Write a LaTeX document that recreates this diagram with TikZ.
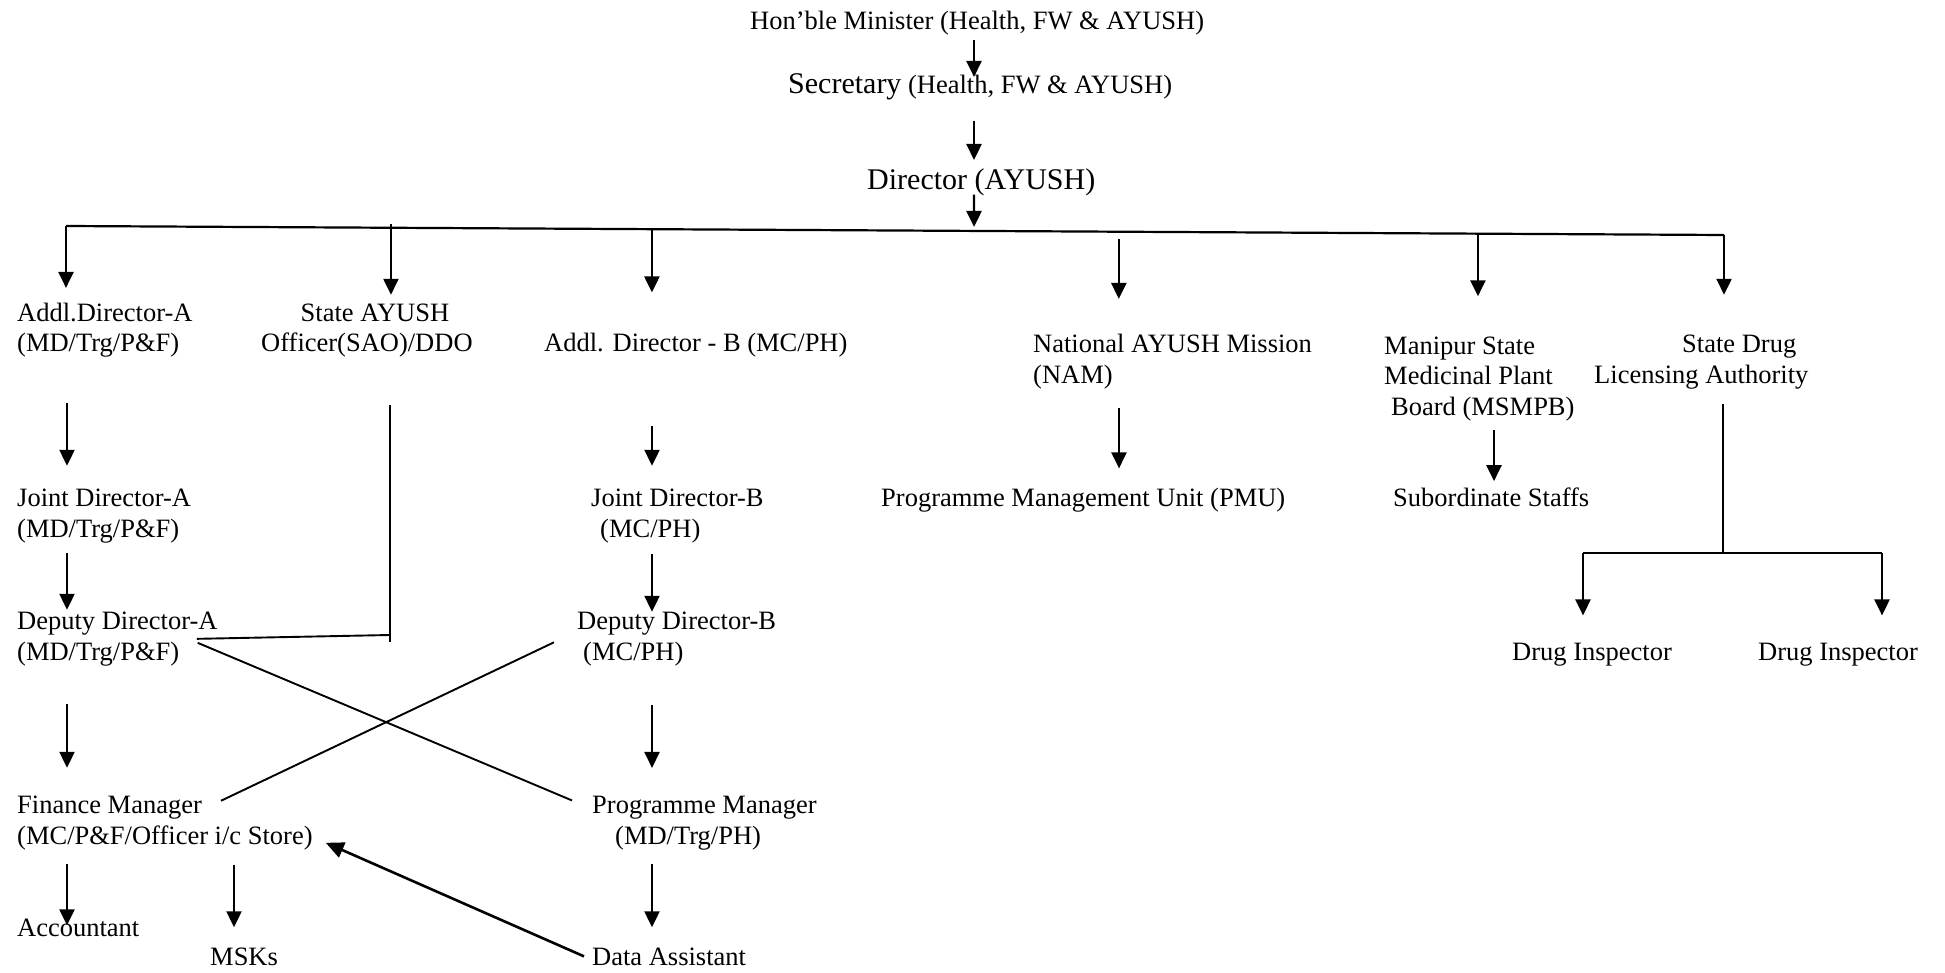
\documentclass[tikz,border=0pt]{standalone}
\usepackage{fontspec}
\setmainfont{Liberation Serif}
\usetikzlibrary{arrows.meta,calc}

\begin{document}
\begin{tikzpicture}[x=1pt,y=-1pt,
    lbl/.style={anchor=base west,inner sep=0pt,align=left,font=\labelfontsize},
    arr/.style={line width=2.4pt,-{Triangle[length=16pt,width=15pt]}},
    link/.style={line width=1.9pt}]
    \pgfmathsetmacro{\chartwidth}{1945}
    \pgfmathsetmacro{\chartheight}{973}
    \providecommand{\labelfontsize}{\fontsize{26.5pt}{30.5pt}\selectfont}
    \providecommand{\headfontsize}{\fontsize{30pt}{34pt}\selectfont}
    \useasboundingbox (0,0) rectangle (\chartwidth,\chartheight);

    % top of the chain
    \node[lbl] (mins) at (750,30) {Hon'ble Minister (Health, FW \& AYUSH)};
    \node[lbl] (sec) at (788,94) {{\headfontsize Secretary} (Health, FW \& AYUSH)};
    \node[lbl,font=\headfontsize] (dir) at (867,190) {Director (AYUSH)};

    % second level
    \node[lbl] (addA) at (17,352) {Addl.Director-A\\(MD/Trg/P\&F)};
    \node[lbl,align=center] (sao) at (261,352) {\hspace*{16pt}State AYUSH\\Officer(SAO)/DDO};
    \node[lbl] (addB) at (544,352) {Addl. Director - B (MC/PH)};
    \node[lbl] (nam) at (1033,383) {National AYUSH Mission\\(NAM)};
    \node[lbl] (msmpb) at (1384,415) {Manipur State\\Medicinal Plant\\\hspace*{7pt}Board (MSMPB)};
    \node[lbl] (sdla) at (1594,383) {\hspace*{88pt}State Drug\\Licensing Authority};

    % third level and below
    \node[lbl] (jointA) at (17,537) {Joint Director-A\\(MD/Trg/P\&F)};
    \node[lbl] (jointB) at (591,537) {Joint Director-B\\\hspace*{9pt}(MC/PH)};
    \node[lbl] (pmu) at (881,506) {Programme Management Unit (PMU)};
    \node[lbl] (subst) at (1393,506) {Subordinate Staffs};
    \node[lbl] (depA) at (17,660) {Deputy Director-A\\(MD/Trg/P\&F)};
    \node[lbl] (depB) at (577,660) {Deputy Director-B\\\hspace*{6pt}(MC/PH)};
    \node[lbl] (di1) at (1512,660) {Drug Inspector};
    \node[lbl] (di2) at (1758,660) {Drug Inspector};
    \node[lbl] (fin) at (17,844) {Finance Manager\\(MC/P\&F/Officer i/c Store)};
    \node[lbl] (pm) at (592,844) {Programme Manager\\\hspace*{23pt}(MD/Trg/PH)};
    \node[lbl] (acc) at (17,936) {Accountant};
    \node[lbl] (msk) at (210,965) {MSKs};
    \node[lbl] (da) at (592,965) {Data Assistant};

    \coordinate (busL) at (66,226);
    \coordinate (busR) at (1724,235);
    \coordinate (colT) at (974,0);
    \coordinate (colA) at (67,0);
    \coordinate (colB) at (652,0);
    \coordinate (colK) at (234,0);
    \coordinate (colN) at (1119,0);
    \coordinate (colM) at (1494,0);
    \coordinate (colS) at (1723,0);
    \coordinate (saoJ) at (390,635);
    \coordinate (spL) at (1583,553);
    \coordinate (spR) at (1882,553);

    \draw[arr,shorten <=4pt,shorten >=-3pt] (mins.south -| colT) -- (sec.north -| colT);
    \draw[arr,shorten <=20pt,shorten >=9pt] (sec.south -| colT) -- (dir.north -| colT);
    \path ($(busL)!0.5477!(busR)$) coordinate (busT);
    \draw[arr,shorten <=-2pt,shorten >=4pt] (dir.south -| colT) -- (busT);

    % the long bar under the director
    \draw[line width=2.2pt] (busL) -- (busR);
    \foreach \t/\n/\s/\e in {0/addA/0/15,0.196/sao/-4/9,0.3534/addB/1/41,0.635/nam/7/35,0.8516/msmpb/0/40,1/sdla/0/40}{
      \path ($(busL)!\t!(busR)$) coordinate (drop);
      \draw[arr,shorten <=\s pt,shorten >=\e pt] (drop) -- (\n.north -| drop);
    }

    % column A
    \draw[arr,shorten <=45pt,shorten >=23pt] (addA.south -| colA) -- (jointA.north -| colA);
    \draw[arr,shorten <=10pt,shorten >=2pt] (jointA.south -| colA) -- (depA.north -| colA);
    \draw[arr,shorten <=38pt,shorten >=28pt] (depA.south -| colA) -- (fin.north -| colA);
    \draw[arr,shorten <=14pt,shorten >=-7pt] (fin.south -| colA) -- (acc.north -| colA);
    \draw[arr,shorten <=15pt,shorten >=20pt] (fin.south -| colK) -- (msk.north -| colK);
    % column B
    \draw[arr,shorten <=68pt,shorten >=23pt] (addB.south -| colB) -- (jointB.north -| colB);
    \draw[arr,shorten <=11pt,shorten >=0pt] (jointB.south -| colB) -- (depB.north -| colB);
    \draw[arr,shorten <=39pt,shorten >=28pt] (depB.south -| colB) -- (pm.north -| colB);
    \draw[arr,shorten <=14pt,shorten >=20pt] (pm.south -| colB) -- (da.north -| colB);
    % right side
    \draw[arr,shorten <=19pt,shorten >=19pt] (nam.south -| colN) -- (pmu.north -| colN);
    \draw[arr,shorten <=9pt,shorten >=6pt] (msmpb.south -| colM) -- (subst.north -| colM);
    \draw[line width=2.4pt,shorten <=15pt] (sdla.south -| colS) -- (colS |- spL);
    \draw[line width=2.4pt] (spL) -- (spR);
    \draw[arr,shorten >=27pt] (spL) -- (di1.north -| spL);
    \draw[arr,shorten >=27pt] (spR) -- (di2.north -| spR);
    % SAO line and the cross links
    \draw[link,shorten <=47pt] (sao.south -| saoJ) -- ([yshift=-7pt]saoJ);
    \draw[link] ([xshift=-21pt]depA.east) -- (saoJ);
    \draw[link] ([xshift=-20pt,yshift=-4pt]depA.east) -- ([xshift=-20pt,yshift=-4.5pt]pm.north west);
    \draw[link] ([xshift=-23pt,yshift=-3.5pt]depB.west) -- ([xshift=204pt,yshift=-5pt]fin.north west);
    \draw[line width=2.6pt,-{Triangle[length=18pt,width=16pt]}] ([xshift=-8pt]da.west) -- ([xshift=13pt,yshift=-20pt]fin.east);
\end{tikzpicture}
\end{document}
